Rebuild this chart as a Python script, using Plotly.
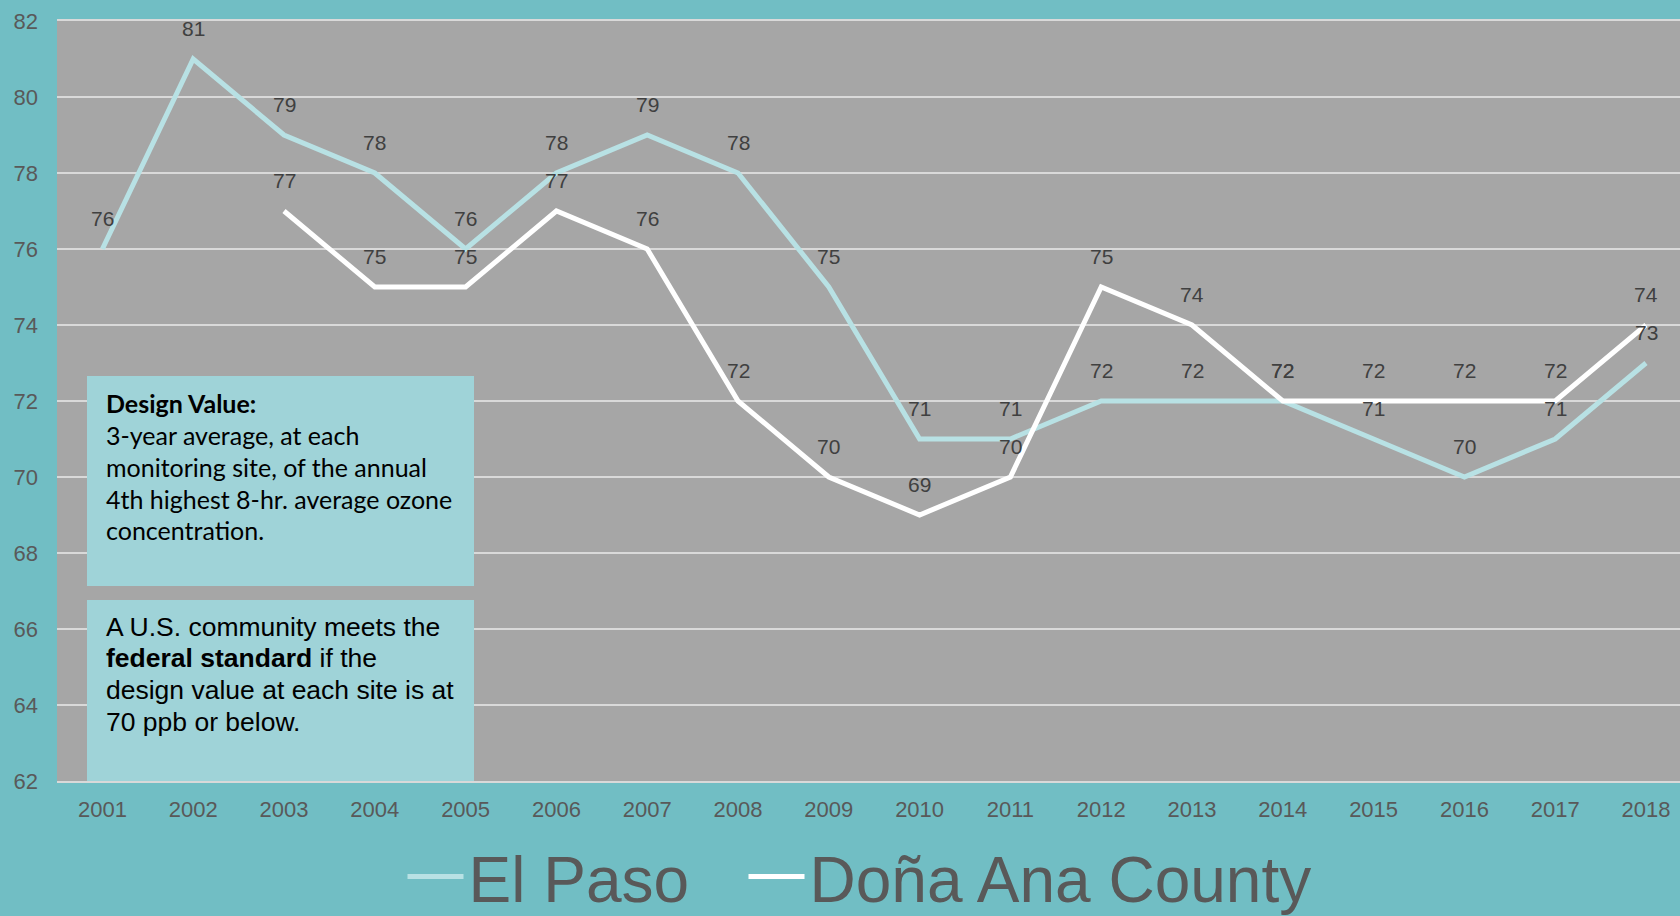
import plotly.graph_objects as go

years = [str(y) for y in range(2001, 2019)]
el_paso = [76, 81, 79, 78, 76, 78, 79, 78, 75, 71, 71, 72, 72, 72, 71, 70, 71, 73]
dona_ana = [None, None, 77, 75, 75, 77, 76, 72, 70, 69, 70, 75, 74, 72, 72, 72, 72, 74]
series_names = ["El Paso", "Doña Ana County"]
y_ticks = list(range(62, 83, 2))

W, H = 1680, 916
L, R, T, B = 57, 0, 21, 135
PW, PH = W - L - R, H - T - B

def px_x(px):
    return (px - L) / PW

def px_y(py):
    return (H - B - py) / PH

BG = "#71BEC4"
PLOT_BG = "#A6A6A6"
GRID = "#D9D9D9"
EP_COLOR = "#B8E1E4"
DA_COLOR = "#FFFFFF"
BOX = "#9FD3D8"
FONT = "Liberation Sans, Arial, sans-serif"

fig = go.Figure()
fig.add_trace(go.Scatter(x=years, y=el_paso, mode="lines", name=series_names[0],
                         line=dict(color=EP_COLOR, width=5), legend="legend"))
fig.add_trace(go.Scatter(x=years, y=dona_ana, mode="lines", name=series_names[1],
                         line=dict(color=DA_COLOR, width=5), connectgaps=False, legend="legend2"))

annotations = []
for vals in (el_paso, dona_ana):
    for i, v in enumerate(vals):
        if v is None:
            continue
        annotations.append(dict(x=i, y=v, xref="x", yref="y", text=str(v), showarrow=False,
                                yshift=31, font=dict(family=FONT, size=21, color="#404040")))

# info boxes
shapes = [
    dict(type="rect", xref="paper", yref="paper", x0=px_x(87), x1=px_x(474), y0=px_y(586), y1=px_y(376),
         fillcolor=BOX, line=dict(width=0), layer="above"),
    dict(type="rect", xref="paper", yref="paper", x0=px_x(87), x1=px_x(474), y0=px_y(781), y1=px_y(600),
         fillcolor=BOX, line=dict(width=0), layer="above"),
]

box1_lines = ["<b>Design Value:</b>", "3-year average, at each", "monitoring site, of the annual",
              "4th highest 8-hr. average ozone", "concentration."]
box1_y = [403, 435, 467, 499, 530]
for txt, yy in zip(box1_lines, box1_y):
    annotations.append(dict(x=px_x(104), y=px_y(yy), xref="paper", yref="paper", text=txt, showarrow=False,
                            xanchor="left", yanchor="middle", align="left",
                            font=dict(family="Lato, Carlito, Calibri, sans-serif", size=25, color="#000000")))

box2_lines = ["A U.S. community meets the", "<b>federal standard</b> if the",
              "design value at each site is at", "70 ppb or below."]
box2_y = [627, 658, 690, 722]
for txt, yy in zip(box2_lines, box2_y):
    annotations.append(dict(x=px_x(104), y=px_y(yy), xref="paper", yref="paper", text=txt, showarrow=False,
                            xanchor="left", yanchor="middle", align="left",
                            font=dict(family=FONT, size=26.5, color="#000000")))

legend_common = dict(orientation="h", yanchor="middle", y=px_y(877), xanchor="left",
                     font=dict(family=FONT, size=64, color="#595959"), bgcolor="rgba(0,0,0,0)",
                     itemwidth=56)

fig.update_layout(
    width=W, height=H,
    margin=dict(l=L, r=R, t=T, b=B, autoexpand=False),
    paper_bgcolor=BG,
    plot_bgcolor=PLOT_BG,
    showlegend=True,
    legend=dict(x=px_x(409 - 6.5), **legend_common),
    legend2=dict(x=px_x(750 - 6.5), **legend_common),
    shapes=shapes,
    annotations=annotations,
    xaxis=dict(type="category", range=[-0.5, -0.5 + PW / 90.8], showgrid=False, zeroline=False,
               showline=True, linecolor=GRID, linewidth=2, mirror=True,
               tickfont=dict(family=FONT, size=22, color="#595959"), ticks="", ticklabelstandoff=8,
               fixedrange=True),
    yaxis=dict(range=[62, 82], tickvals=y_ticks, showgrid=True, gridcolor=GRID, gridwidth=2,
               zeroline=False, showline=False,
               tickfont=dict(family=FONT, size=22, color="#595959"), ticks="", ticklabelstandoff=18,
               fixedrange=True),
)

fig.write_html("out.html", config={"displayModeBar": False},
               post_script="document.body.style.margin='0';document.body.style.overflow='hidden';")
